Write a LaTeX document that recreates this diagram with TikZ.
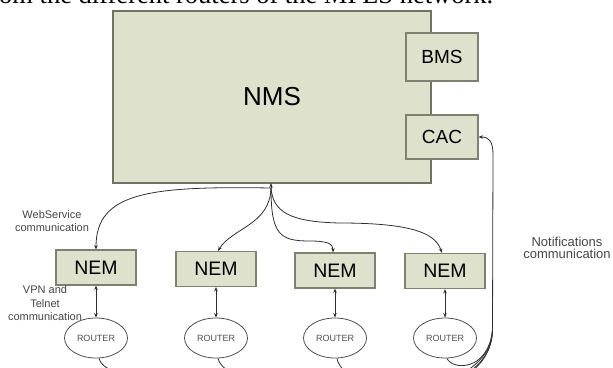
\documentclass[tikz,border=0pt]{standalone}
\usepackage{fontspec}
\setmainfont{Liberation Sans}
\newfontfamily\serifa{Liberation Serif}
\usetikzlibrary{arrows.meta,shapes.geometric}
\definecolor{boxfill}{HTML}{DEE1CC}
\definecolor{boxline}{HTML}{7E8070}
\definecolor{connc}{HTML}{303030}
\definecolor{lblc}{HTML}{454545}
\begin{document}
\begin{tikzpicture}[x=1pt,y=-1pt,
  gbox/.style={draw=boxline, fill=boxfill, line width=1.1pt, inner sep=0pt},
  nembox/.style={gbox, minimum width=80pt, minimum height=35pt, font=\fontsize{19.5}{21}\selectfont},
  sidebox/.style={gbox, minimum width=72pt, font=\fontsize{19}{21}\selectfont},
  routerbox/.style={ellipse, draw=connc!85, line width=0.8pt, minimum width=63pt, minimum height=40pt, inner sep=0pt, text=connc!85, font=\fontsize{9}{10}\selectfont},
  lab/.style={align=center, text=lblc, inner sep=0pt},
  connline/.style={draw=connc, line width=0.8pt},
  tipped/.style={connline, -{Stealth[length=4.5pt,width=3.5pt]}},
  bitipped/.style={connline, {Stealth[length=4.5pt,width=3.5pt]}-{Stealth[length=4.5pt,width=3.5pt]}}
]
\useasboundingbox (0,0) rectangle (613,367);
\clip (0,0) rectangle (613,367);

% cut-off text line at top
\node[anchor=base west, inner sep=0pt, font=\serifa\fontsize{26.5}{28}\selectfont] (toptext) at (-1,3.5) {om the different routers of the MPLS network.};

% NMS and its parts
\node[gbox, draw=boxline!90!black, minimum width=318pt, minimum height=172pt, font=\fontsize{26}{28}\selectfont] (NMS) at (272,97) {NMS};
\node[sidebox, minimum height=48pt] (BMS) at (442,57) {BMS};
\node[sidebox, minimum height=44pt] (CAC) at (442,137) {CAC};

% NEMs
\node[nembox] (NEM1) at (96,267.5) {NEM};
\node[nembox] (NEM2) at (216,269) {NEM};
\node[nembox] (NEM3) at (335,270.5) {NEM};
\node[nembox] (NEM4) at (445,271) {NEM};

% Routers
\node[routerbox] (R1) at (96,338) {ROUTER};
\node[routerbox] (R2) at (216,338) {ROUTER};
\node[routerbox] (R3) at (335,338) {ROUTER};
\node[routerbox] (R4) at (445,338) {ROUTER};

% labels
\node[lab, font=\fontsize{11}{13}\selectfont] (web) at (52,221.5) {WebService\\communication};
\node[lab, font=\fontsize{11}{13.5}\selectfont] (vpn) at (45,303.5) {VPN and\\Telnet\\communication};
\node[lab, font=\fontsize{13}{12}\selectfont] (notif) at (567,248) {Notifications\\communication};

% hub
\coordinate (hub) at (271,183);
\coordinate (hubb) at (271,188);
\draw[tipped] (hubb) -- (hub);

% NMS to NEMs
\draw[tipped] (hubb) .. controls (150,186) and (96,192) .. ([xshift=0pt]NEM1.north);
\draw[tipped] (hubb) .. controls (270,225) and (232,228) .. ([xshift=2pt]NEM2.north);
\draw[tipped] (hubb) .. controls (271,235) and (280,241) .. (310,241) .. controls (328,241) and (333,244) .. ([xshift=-2pt]NEM3.north);
\draw[tipped] (hubb) .. controls (273,212) and (290,222) .. (340,223) .. controls (420,223) and (436,236) .. ([xshift=-3pt]NEM4.north);

% NEM to routers
\draw[bitipped] (NEM1.south) -- (R1.north);
\draw[bitipped] (NEM2.south) -- (R2.north);
\draw[bitipped] (NEM3.south) -- (R3.north);
\draw[bitipped] (NEM4.south) -- (R4.north);

% notifications from routers to CAC
\coordinate (join) at (492.5,330);
\draw[connline] ([xshift=3pt]R1.south) .. controls (106,400) and (490,440) .. (join);
\draw[connline] ([xshift=2pt]R2.south) .. controls (226,400) and (491,430) .. (join);
\draw[connline] ([xshift=2pt]R3.south) .. controls (344,398) and (490,410) .. (join);
\draw[connline] ([xshift=2pt]R4.south) .. controls (452,370) and (488,372) .. (join);
\draw[tipped] (join) -- (493,155) .. controls (493,141) and (489,137) .. (CAC.east);
\end{tikzpicture}
\end{document}
